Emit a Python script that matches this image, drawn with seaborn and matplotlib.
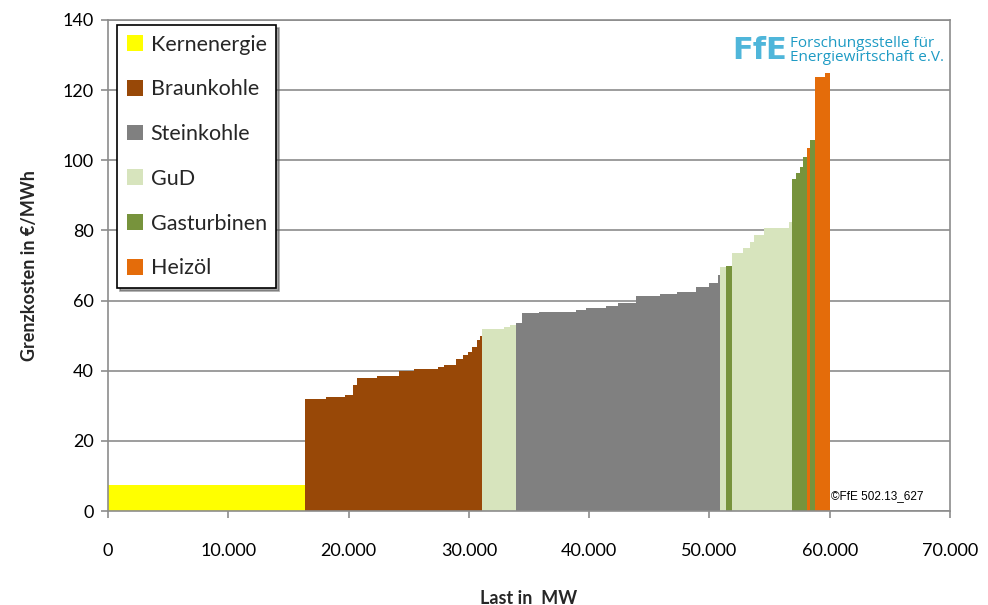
import numpy as np
import pandas as pd
import matplotlib
matplotlib.use("Agg")
import matplotlib.pyplot as plt
import seaborn as sns
from matplotlib.patches import Patch
from matplotlib.ticker import FuncFormatter

# Merit-Order: Lastabschnitte (MW), Grenzkosten (EUR/MWh), Technologie
load_start = [0, 16400, 18100, 19700, 20400, 20700, 22400, 24200, 25400, 27400,
              27900, 28900, 29500, 29900, 30300, 30700, 30900, 31100, 32900, 33400,
              33900, 34400, 35800, 38900, 39700, 41400, 42400, 43900, 45900, 47300,
              48900, 50000, 50700, 50900, 51400, 51900, 52800, 53400, 53700, 54500,
              56600, 56900, 57200, 57500, 57800, 58100, 58400, 58800, 59600]
load_end_last = 60000
price = [7.4, 31.9, 32.4, 33.0, 36.0, 37.8, 38.6, 40.0, 40.5, 41.1,
         41.6, 43.3, 44.5, 45.2, 46.9, 48.8, 49.9, 51.8, 52.4, 53.0,
         53.5, 56.4, 56.8, 57.3, 57.8, 58.5, 59.4, 61.4, 61.9, 62.5,
         64.0, 64.9, 67.4, 69.7, 70.0, 73.5, 74.9, 76.8, 78.7, 80.6,
         82.5, 94.8, 96.3, 98.2, 101.0, 103.4, 105.8, 123.8, 124.8]
tech = (["Kernenergie"] + ["Braunkohle"] * 16 + ["GuD"] * 3 + ["Steinkohle"] * 13
        + ["GuD"] + ["Gasturbinen"] + ["GuD"] * 6 + ["Gasturbinen"] * 4
        + ["Heizöl"] + ["Gasturbinen"] + ["Heizöl"] * 2)

tech_order = ["Kernenergie", "Braunkohle", "Steinkohle", "GuD", "Gasturbinen", "Heizöl"]
colors = {"Kernenergie": "#FFFF00", "Braunkohle": "#984807", "Steinkohle": "#808080",
          "GuD": "#D7E4BD", "Gasturbinen": "#77933C", "Heizöl": "#E46C0A"}

edges = [float(v) for v in load_start + [load_end_last]]
df = pd.DataFrame({"mid": [(a + b) / 2 for a, b in zip(edges[:-1], edges[1:])],
                   "price": price, "tech": tech})

sns.set_theme(style="white")
plt.rcParams["font.family"] = ["Lato", "DejaVu Sans"]

fig = plt.figure(figsize=(9.88, 6.05), dpi=100)
ax = fig.add_axes([108 / 988, 1 - 511 / 605, 842 / 988, 491 / 605])

sns.histplot(data=df, x="mid", weights="price", bins=edges, hue="tech",
             hue_order=tech_order, palette=colors, element="step", fill=True,
             alpha=1, linewidth=0, legend=False, ax=ax, zorder=2)

ax.set_xlim(0, 70000)
ax.set_ylim(0, 140)
ax.set_xticks(np.arange(0, 70001, 10000))
ax.set_yticks(np.arange(0, 141, 20))
ax.xaxis.set_major_formatter(FuncFormatter(lambda v, p: f"{int(v):,}".replace(",", ".")))
ax.yaxis.grid(True, color="#8c8c8c", linewidth=1.2, zorder=0)
ax.set_axisbelow(True)
for s in ax.spines.values():
    s.set_color("#8c8c8c")
    s.set_linewidth(1.2)
ax.tick_params(axis="both", which="major", direction="out", length=5, width=1.2,
               color="#8c8c8c", labelsize=13, labelcolor="black",
               left=True, bottom=True)
ax.tick_params(axis="x", pad=18)
ax.tick_params(axis="y", pad=5)

ax.set_xlabel("Last in  MW", fontsize=13, fontweight="bold", labelpad=22)
ax.set_ylabel("Grenzkosten in €/MWh", fontsize=13, fontweight="bold", labelpad=18)

handles = [Patch(facecolor=colors[t], edgecolor="none", label=t) for t in tech_order]
leg = ax.legend(handles=handles, loc="upper left", bbox_to_anchor=(0.011, 0.99),
                prop={"family": ["Lato", "DejaVu Sans"], "size": 15.5},
                frameon=True, fancybox=False, shadow=True,
                edgecolor="black", labelspacing=1.15, handlelength=0.75,
                handleheight=0.75, handletextpad=0.35, borderpad=0.45,
                borderaxespad=0)
leg.get_frame().set_linewidth(1.2)

# Logo
ax.text(0.741, 0.938, "FfE", transform=ax.transAxes, fontsize=22, fontweight="bold",
        color="#4FB6DA", family=["DejaVu Sans"], va="center", ha="left")
ax.text(0.81, 0.938, "Forschungsstelle für\nEnergiewirtschaft e.V.",
        transform=ax.transAxes, fontsize=11, color="#1E9BC4", va="center",
        ha="left", linespacing=0.95, family=["Open Sans", "DejaVu Sans"])

ax.text(0.859, 0.03, "©FfE 502.13_627", transform=ax.transAxes, fontsize=8.5,
        color="black", family=["Liberation Sans", "DejaVu Sans"], va="center", ha="left")

fig.savefig("out.png", dpi=100)
